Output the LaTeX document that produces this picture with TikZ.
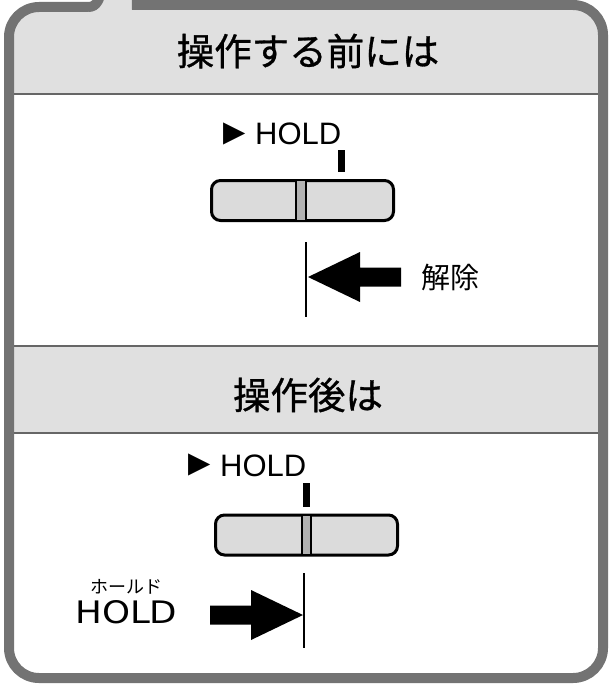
\documentclass[tikz,border=0pt]{standalone}
\usepackage{fontspec}
\setmainfont{Liberation Sans}
\newfontfamily\jpfont{Noto Sans CJK JP}
\newfontfamily\jptitlefont[FakeBold=0.8]{Noto Sans CJK JP}
\newfontfamily\symfont{DejaVu Sans}
\newfontfamily\holdfont[FakeStretch=1.15]{DejaVu Sans}
\usetikzlibrary{positioning,calc}
\definecolor{framegray}{gray}{0.45}
\definecolor{bandgray}{gray}{0.88}
\definecolor{knobgray}{gray}{0.86}
\definecolor{sepgray}{gray}{0.40}

% outline of the card, with the tab running off the top edge
\newcommand{\cardpath}{[rounded corners=30pt] (88,7) -- (9,7) -- (9,678) -- (603,678) -- (603,5) -- (162,5)
  [sharp corners] .. controls (150,5) and (146,2) .. (140,-20) -- (104,-20) .. controls (100,0) and (97,7) .. (88,7)}

\begin{document}
\begin{tikzpicture}[x=1pt,y=-1pt,
   title/.style={font=\jptitlefont\fontsize{37.5}{37.5}\selectfont,inner sep=0pt},
   holdtext/.style={font=\fontsize{31}{31}\selectfont,inner sep=0pt},
   tri/.style={font=\symfont\fontsize{29}{29}\selectfont,inner sep=0pt},
   jplabel/.style={font=\jpfont\fontsize{29}{29}\selectfont,inner sep=0pt},
   slider/.style={draw,line width=3pt,rounded corners=9pt,fill=knobgray,
                  minimum width=182pt,minimum height=40pt,inner sep=0pt},
   divider/.style={line width=2pt},
   pointer/.style={line width=1.3pt},
   blockarrow/.pic={
     \fill (0,0) -- (-52,-25) -- (-52,-9.5) -- (-93,-9.5) -- (-93,9.5) -- (-52,9.5) -- (-52,25) -- cycle;
     \coordinate (-tail) at (-93,0);
   }]
  \useasboundingbox (0,0) rectangle (612,687);
  % card and its two title bands
  \fill[bandgray] \cardpath -- cycle;
  \begin{scope}
    \clip \cardpath -- cycle;
    \fill[white] (0,94) rectangle (612,346);
    \fill[white] (0,433) rectangle (612,700);
  \end{scope}
  \draw[sepgray,line width=1.2pt] (9,94) -- (603,94);
  \draw[sepgray,line width=1.2pt] (9,346) -- (603,346);
  \draw[sepgray,line width=1.2pt] (9,433) -- (603,433);
  \draw[framegray,line width=10pt] \cardpath;

  \node[title] (before) at (308,51) {操作する前には};
  \node[title] (after) at (308,395) {操作後は};

  % before: release
  \node[holdtext,anchor=base west] (holdA) at (255,145) {HOLD};
  \node[tri,left=9pt of holdA] (triA) {▶};
  \fill (338,150) rectangle (345,172);
  \node[slider] (knobA) at (302.5,200.5) {};
  \fill[black!30] (296,181) rectangle (306,220);
  \draw[divider] (296,181) -- (296,220);
  \draw[divider] (306,181) -- (306,220);
  \coordinate (lineAtop) at (306,242);
  \coordinate (lineAbot) at (306,317);
  \draw[pointer] (lineAtop) -- (lineAbot);
  \pic[rotate=180] (arrA) at (308,277) {blockarrow};
  \node[jplabel,right=20pt of arrA-tail] (release) {解除};

  % after: hold
  \node[holdtext,anchor=base west] (holdB) at (220,476) {HOLD};
  \node[tri,left=9pt of holdB] (triB) {▶};
  \fill (303,483) rectangle (310,507);
  \node[slider] (knobB) at (306.5,535) {};
  \fill[black!30] (302,516) rectangle (311,554);
  \draw[divider] (302,516) -- (302,554);
  \draw[divider] (311,516) -- (311,554);
  \coordinate (lineBtop) at (304,573);
  \coordinate (lineBbot) at (304,648);
  \draw[pointer] (lineBtop) -- (lineBbot);
  \pic (arrB) at (303,615) {blockarrow};
  \node[font=\holdfont\fontsize{31}{31}\selectfont,inner sep=0pt,anchor=base west] (holdlabel) at (75,623) {HOLD};
  \node[font=\jpfont\fontsize{18}{18}\selectfont,inner sep=0pt,above=5pt of holdlabel] (ruby) {ホールド};
\end{tikzpicture}
\end{document}
